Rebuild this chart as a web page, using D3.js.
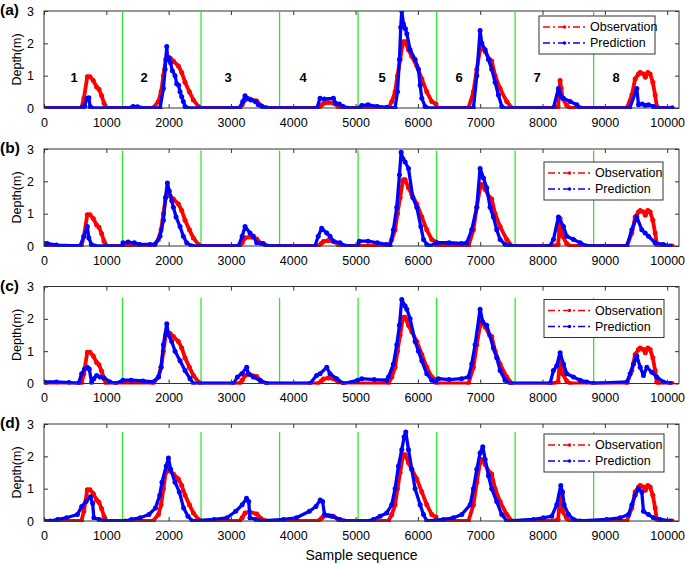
<!DOCTYPE html>
<html><head><meta charset="utf-8">
<script src="https://cdn.jsdelivr.net/npm/d3@7"></script>
<style>body{margin:0;background:#fff}svg{display:block}text{font-family:"Liberation Sans",Arial,sans-serif}</style>
</head><body>
<svg id="c" width="685" height="565"></svg>
<script>
// ---------- data ----------
const xTicks = [0,1000,2000,3000,4000,5000,6000,7000,8000,9000,10000];
const yTicks = [0,1,2,3];
const boundaries = [1260,2520,3780,5040,6300,7560,8820];
const panelLabels = ["(a)","(b)","(c)","(d)"];
const eventLabels = ["1","2","3","4","5","6","7","8"];
const eventLabelX = [482,1605,2953,4157,5425,6661,7913,9181];
const legendLabels = ["Observation","Prediction"];

// Observation (same in every panel): [sample, depth]
const observation = [[0,0],[600,0],[640,0.3],[695,0.97],[738,0.97],[791,0.85],[845,0.65],[882,0.58],[925,0.38],[963,0.15],[995,0],
[1750,0],[1836,0.2],[1879,0.5],[1916,1.0],[1953,1.5],[1975,1.6],[2024,1.55],[2076,1.45],[2156,1.3],[2210,1.1],[2263,0.8],[2333,0.5],[2397,0.25],[2478,0.05],[2504,0],
[3140,0],[3180,0.1],[3226,0.25],[3300,0.28],[3413,0.22],[3480,0.08],[3574,0],
[4400,0],[4450,0.08],[4484,0.14],[4560,0.17],[4644,0.15],[4720,0.05],[4804,0],
[5527,0],[5581,0.2],[5634,0.5],[5672,1.0],[5715,1.5],[5757,2.0],[5768,2.05],[5795,2.05],[5849,1.8],[5902,1.6],[5982,1.3],[6063,0.9],[6143,0.5],[6223,0.2],[6290,0.12],[6303,0],
[6811,0],[6891,0.5],[6945,1.2],[6998,1.8],[7025,1.9],[7080,1.75],[7150,1.5],[7185,1.45],[7239,1.0],[7319,0.6],[7426,0.2],[7506,0],
[8175,0],[8250,0.05],[8270,0.5],[8282,0.85],[8300,0.6],[8320,0.3],[8389,0.08],[8443,0],
[9353,0],[9433,0.4],[9486,0.9],[9540,1.05],[9567,1.1],[9620,1.05],[9650,0.95],[9690,1.1],[9727,1.05],[9770,0.8],[9807,0.4],[9834,0.05],[9860,0],[10080,0]];

const predictionA = [[0,0],[600,0],[650,0.05],[690,0.3],[720,0.32],[740,0.05],[760,0],[1400,0],[1430,0.05],[1500,0.04],[1550,0],
[1862,0],[1916,0.6],[1943,1.2],[1970,1.9],[1985,1.5],[2000,1.55],[2030,1.4],[2060,1.15],[2103,1.0],[2130,0.75],[2160,0.7],[2183,0.5],[2210,0.35],[2236,0.2],[2263,0.05],[2290,0],
[3140,0],[3190,0.2],[3226,0.38],[3260,0.3],[3320,0.25],[3390,0.2],[3440,0.1],[3500,0.05],[3574,0],
[4380,0],[4430,0.3],[4500,0.28],[4644,0.3],[4680,0.15],[4740,0.12],[4800,0.05],[4850,0],
[5050,0],[5100,0.08],[5200,0.1],[5350,0.05],[5500,0.02],[5634,0],[5672,0.5],[5704,1.5],[5725,2.5],[5741,3.0],[5768,2.6],[5800,2.45],[5822,2.3],[5875,1.8],[5955,1.5],[6009,1.2],[6036,0.7],[6063,0.3],[6116,0.05],[6143,0],
[6891,0],[6945,1.0],[6998,2.4],[7025,2.0],[7079,1.8],[7132,1.5],[7185,1.2],[7239,0.8],[7292,0.4],[7346,0.05],[7370,0],
[8175,0],[8255,0.6],[8300,0.35],[8336,0.3],[8443,0.2],[8550,0.1],[8604,0],
[9400,0],[9513,0.6],[9540,0.1],[9600,0.12],[9650,0.08],[9700,0.1],[9780,0.05],[9830,0],[10080,0]];

const predictionB = [[0,0.08],[50,0.08],[200,0.03],[578,0],[640,0.3],[695,0.6],[720,0.25],[760,0.05],[818,0],[1250,0],[1268,0.1],[1350,0.12],[1450,0.1],[1536,0.05],[1700,0.05],[1782,0.05],
[1862,0.3],[1916,0.8],[1950,1.5],[1980,1.95],[2010,1.7],[2050,1.4],[2076,1.2],[2119,0.9],[2183,0.6],[2236,0.3],[2290,0.1],[2370,0],
[3120,0],[3180,0.3],[3226,0.6],[3306,0.4],[3360,0.3],[3413,0.1],[3520,0.08],[3574,0],
[4349,0],[4400,0.3],[4456,0.55],[4537,0.4],[4590,0.3],[4644,0.15],[4750,0.1],[4830,0],
[5031,0],[5060,0.15],[5200,0.15],[5350,0.1],[5496,0.05],[5554,0],[5607,0.5],[5661,1.2],[5704,2.2],[5731,2.9],[5760,2.7],[5795,2.6],[5849,2.4],[5918,1.5],[5982,1.2],[6047,0.6],[6090,0.2],[6143,0.05],[6196,0],
[6303,0.1],[6500,0.1],[6700,0.08],[6784,0.1],[6864,0.5],[6945,1.2],[6998,2.4],[7052,2.1],[7105,1.8],[7158,1.2],[7212,0.9],[7265,0.5],[7319,0.2],[7399,0.05],[7480,0],
[8121,0],[8175,0.2],[8255,0.9],[8336,0.6],[8389,0.3],[8496,0.2],[8604,0.1],[8710,0],
[9353,0],[9433,0.5],[9513,0.9],[9593,0.5],[9647,0.4],[9700,0.3],[9807,0.1],[9940,0.05],[10050,0]];

const predictionC = [[0,0.05],[200,0.05],[400,0.03],[551,0],[604,0.3],[650,0.45],[695,0.5],[727,0.45],[764,0.02],[800,0.15],[845,0.25],[900,0.2],[960,0.18],[1059,0.05],[1150,0],
[1268,0.1],[1400,0.1],[1589,0.08],[1750,0.05],[1836,0.2],[1879,0.5],[1916,1.2],[1970,1.85],[1997,1.5],[2050,1.3],[2103,1.0],[2183,0.7],[2263,0.4],[2343,0.15],[2397,0],
[3040,0],[3104,0.2],[3173,0.3],[3253,0.5],[3280,0.3],[3360,0.2],[3466,0.1],[3574,0],
[4268,0],[4375,0.25],[4430,0.3],[4537,0.5],[4590,0.3],[4697,0.15],[4804,0],
[5031,0.1],[5100,0.15],[5300,0.12],[5500,0.1],[5527,0.2],[5607,0.6],[5661,1.2],[5704,1.8],[5741,2.6],[5795,2.4],[5822,2.3],[5875,2.0],[5955,1.3],[6009,1.0],[6063,0.7],[6143,0.3],[6223,0.1],[6277,0.05],
[6330,0.15],[6500,0.12],[6700,0.15],[6811,0.2],[6864,0.6],[6918,1.2],[6998,2.3],[7041,1.9],[7105,1.8],[7212,1.1],[7265,0.8],[7319,0.4],[7399,0.1],[7480,0],
[8121,0],[8175,0.4],[8228,0.55],[8282,0.95],[8336,0.6],[8389,0.3],[8496,0.2],[8604,0.1],[8710,0.05],[8818,0],
[9353,0.05],[9406,0.3],[9460,0.6],[9513,0.85],[9567,0.5],[9620,0.25],[9674,0.5],[9754,0.35],[9834,0.2],[9941,0.05],[10048,0]];

const predictionD = [[0,0],[100,0],[220,0.05],[362,0.1],[536,0.2],[605,0.45],[675,0.6],[745,0.75],[780,0.55],[800,0.1],[884,0.05],[988,0],
[1300,0],[1406,0.05],[1545,0.1],[1684,0.2],[1788,0.4],[1858,0.8],[1893,1.2],[1962,1.7],[1997,1.95],[2032,1.6],[2102,1.2],[2171,0.9],[2241,0.4],[2310,0.15],[2380,0],
[2728,0.05],[2937,0.1],[3076,0.3],[3180,0.5],[3250,0.7],[3285,0.6],[3305,0.1],[3400,0.05],[3493,0],
[3841,0.05],[4050,0.1],[4259,0.3],[4363,0.45],[4433,0.65],[4470,0.6],[4502,0.2],[4610,0.15],[4750,0.05],[4820,0],
[5233,0],[5286,0.05],[5393,0.15],[5500,0.25],[5580,0.5],[5634,1.0],[5688,1.7],[5741,2.2],[5779,2.6],[5806,2.75],[5849,2.2],[5902,1.6],[5955,1.0],[6036,0.5],[6090,0.2],[6143,0],
[6410,0.05],[6570,0.1],[6704,0.2],[6838,0.5],[6891,1.0],[6945,1.6],[6998,2.1],[7041,2.3],[7079,1.9],[7132,1.4],[7185,1.0],[7265,0.6],[7346,0.2],[7426,0],
[7854,0.05],[8014,0.1],[8148,0.15],[8228,0.5],[8293,1.1],[8320,0.9],[8346,0.5],[8416,0.2],[8500,0.05],[8604,0],
[9032,0.05],[9246,0.1],[9380,0.2],[9433,0.5],[9486,0.8],[9540,1.0],[9593,0.9],[9620,0.3],[9700,0.2],[9780,0.1],[9888,0.05],[10048,0]];

const predictions = [predictionA, predictionB, predictionC, predictionD];

// ---------- layout ----------
const svg = d3.select("#c");
const left = 44, right = 679, panelH = 97;
const zeros = [108, 246, 383.5, 521];
const greenTop = [2.97, 2.95, 2.65, 2.75];
const legendOff = [[539,5],[544,13],[544,13],[544,10]];
const legendW = [116,119,120,120];
const RED = "#ff0000", BLUE = "#0000ff", GREEN = "#2ee62e";

const x = d3.scaleLinear().domain([0, 10190]).range([left, right]);

zeros.forEach((z, p) => {
  const y = d3.scaleLinear().domain([0, 3]).range([z, z - panelH]);
  const g = svg.append("g");
  const clipId = "clip" + p;
  g.append("clipPath").attr("id", clipId).append("rect")
    .attr("x", left).attr("y", z - panelH).attr("width", right - left).attr("height", panelH + 1);

  // green boundaries
  g.selectAll("line.b").data(boundaries).enter().append("line")
    .attr("x1", d => x(d)).attr("x2", d => x(d))
    .attr("y1", y(0)).attr("y2", y(greenTop[p]))
    .attr("stroke", GREEN).attr("stroke-width", 1.3);

  const line = d3.line().x(d => x(d[0])).y(d => y(d[1]));
  const series = [[observation, RED, 3.8], [predictions[p], BLUE, 3.3]];
  const plot = g.append("g").attr("clip-path", `url(#${clipId})`);
  series.forEach(([data, col, w]) => {
    plot.append("path").attr("d", line(data)).attr("fill", "none")
      .attr("stroke", col).attr("stroke-width", w).attr("stroke-linejoin", "round");
    plot.selectAll(null).data(data).enter().append("circle")
      .attr("cx", d => x(d[0])).attr("cy", d => y(d[1])).attr("r", 2.5).attr("fill", col);
  });

  // frame
  g.append("rect").attr("x", left).attr("y", z - panelH).attr("width", right - left).attr("height", panelH)
    .attr("fill", "none").attr("stroke", "#333").attr("stroke-width", 1);

  // axes with inward ticks
  const ax = g.append("g").attr("transform", `translate(0,${z})`)
    .call(d3.axisBottom(x).tickValues(xTicks).tickSizeInner(-4).tickSizeOuter(0).tickPadding(10).tickFormat(d3.format("d")));
  const axT = g.append("g").attr("transform", `translate(0,${z - panelH})`)
    .call(d3.axisTop(x).tickValues(xTicks).tickSizeInner(-4).tickSizeOuter(0).tickFormat(""));
  const ay = g.append("g").attr("transform", `translate(${left},0)`)
    .call(d3.axisLeft(y).tickValues(yTicks).tickSizeInner(-4).tickSizeOuter(0).tickPadding(10).tickFormat(d3.format("d")));
  const ayR = g.append("g").attr("transform", `translate(${right},0)`)
    .call(d3.axisRight(y).tickValues(yTicks).tickSizeInner(-4).tickSizeOuter(0).tickFormat(""));
  [ax, axT, ay, ayR].forEach(a => {
    a.select(".domain").remove();
    a.selectAll("line").attr("stroke", "#333");
    a.selectAll("text").attr("font-size", 12.5).attr("fill", "#000").attr("font-family", '"Liberation Sans",Arial,sans-serif');
  });

  // y label
  g.append("text").attr("transform", `translate(17,${z - panelH / 2}) rotate(-90)`)
    .attr("text-anchor", "middle").attr("dominant-baseline", "central").attr("font-size", 12.5).text("Depth(m)");

  // panel label
  g.append("text").attr("x", 0).attr("y", z - panelH + 4).attr("font-size", 15.5).attr("font-weight", "bold").text(panelLabels[p]);

  // legend
  const [lx, ly] = legendOff[p];
  const lg = g.append("g").attr("transform", `translate(${lx},${z - panelH + ly})`);
  lg.append("rect").attr("width", legendW[p]).attr("height", 38).attr("fill", "#fff").attr("stroke", "#333").attr("stroke-width", 1);
  legendLabels.forEach((t, i) => {
    const col = i === 0 ? RED : BLUE;
    const yy = 11 + i * 16;
    lg.append("line").attr("x1", 4).attr("x2", 47).attr("y1", yy).attr("y2", yy)
      .attr("stroke", col).attr("stroke-width", 1.4).attr("stroke-dasharray", "7,3,2,3");
    lg.append("circle").attr("cx", 25.5).attr("cy", yy).attr("r", 1.8).attr("fill", col);
    lg.append("text").attr("x", 51).attr("y", yy).attr("dominant-baseline", "central").attr("font-size", 12.5).text(t);
  });

  // event numbers in panel (a)
  if (p === 0) {
    g.selectAll("text.ev").data(eventLabels).enter().append("text")
      .attr("x", (d, i) => x(eventLabelX[i])).attr("y", y(0.95))
      .attr("text-anchor", "middle").attr("dominant-baseline", "central")
      .attr("font-size", 13).attr("font-weight", "bold").text(d => d);
  }
});

svg.append("text").attr("x", (left + right) / 2).attr("y", 560).attr("text-anchor", "middle")
  .attr("font-size", 14).text("Sample sequence");
</script>
</body></html>
